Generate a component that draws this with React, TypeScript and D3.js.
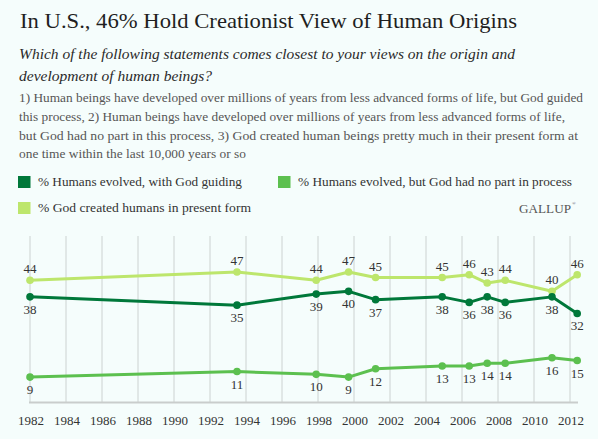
import * as d3 from 'd3';

// survey dates (decimal years) and results
const surveyDates = [1982.0, 1993.5, 1997.9, 1999.7, 2001.2, 2004.9, 2006.4, 2007.4, 2008.4, 2011.0, 2012.4];
const godGuiding = [38, 35, 39, 40, 37, 38, 36, 38, 36, 38, 32];
const noGodPart = [9, 11, 10, 9, 12, 13, 13, 14, 14, 16, 15];
const createdPresentForm = [44, 47, 44, 47, 45, 45, 46, 43, 44, 40, 46];
const tickYears = d3.range(1982, 2013, 2);

const seriesNames = [
  '% Humans evolved, with God guiding',
  '% Humans evolved, but God had no part in process',
  '% God created humans in present form',
];

const title = 'In U.S., 46% Hold Creationist View of Human Origins';
const question = [
  'Which of the following statements comes closest to your views on the origin and',
  'development of human beings?',
];
const answers = [
  '1) Human beings have developed over millions of years from less advanced forms of life, but God guided',
  'this process, 2) Human beings have developed over millions of years from less advanced forms of life,',
  'but God had no part in this process, 3) God created human beings pretty much in their present form at',
  'one time within the last 10,000 years or so',
];

const W = 598;
const H = 439;
const FONT = "'Liberation Serif', 'DejaVu Serif', 'Times New Roman', serif";

const DARK = '#00783a';
const MID = '#5cc04f';
const LIGHT = '#bde66c';

export default function App() {
  const x = d3.scaleLinear().domain([1982, 2012]).range([30, 570]);
  const y = d3.scaleLinear().domain([0, 60]).range([402, 236]);

  const series = [
    { name: seriesNames[2], values: createdPresentForm, color: LIGHT, above: true },
    { name: seriesNames[0], values: godGuiding, color: DARK, above: false },
    { name: seriesNames[1], values: noGodPart, color: MID, above: false },
  ];

  const line = d3.line<[number, number]>()
    .x(d => x(d[0]))
    .y(d => y(d[1]));

  const legend = [
    { name: seriesNames[0], color: DARK, lx: 18, ly: 176 },
    { name: seriesNames[1], color: MID, lx: 278, ly: 176 },
    { name: seriesNames[2], color: LIGHT, lx: 18, ly: 202 },
  ];
  const legendWidths = [204, 274, 213];

  const answerWidths = [564, 546, 559, 227];

  return (
    <svg
      width={W}
      height={H}
      style={{ position: 'absolute', left: 0, top: 0, display: 'block', fontFamily: FONT }}
    >
      <rect width={W} height={H} fill="#f5fdfc" />

      {/* heading */}
      <text x={20} y={28} fontSize={22} fill="#1f1f1f" textLength={497} lengthAdjust="spacingAndGlyphs">
        {title}
      </text>
      {question.map((q, i) => (
        <text
          key={q}
          x={19}
          y={59 + i * 21.7}
          fontSize={15}
          fontStyle="italic"
          fill="#2a2a2a"
          textLength={i === 0 ? 496 : 193}
          lengthAdjust="spacingAndGlyphs"
        >
          {q}
        </text>
      ))}
      {answers.map((a, i) => (
        <text
          key={a}
          x={19}
          y={102.3 + i * 18.6}
          fontSize={13}
          fill="#555"
          textLength={answerWidths[i]}
          lengthAdjust="spacingAndGlyphs"
        >
          {a}
        </text>
      ))}

      {/* legend */}
      {legend.map((l, i) => (
        <g key={l.name}>
          <rect x={l.lx} y={l.ly} width={12.5} height={12} fill={l.color} />
          <text
            x={l.lx + 20}
            y={l.ly + 9.5}
            fontSize={13}
            fill="#333"
            textLength={legendWidths[i]}
            lengthAdjust="spacingAndGlyphs"
          >
            {l.name}
          </text>
        </g>
      ))}
      <text x={519} y={212.5} fontSize={13} fill="#555" textLength={52} lengthAdjust="spacingAndGlyphs">
        GALLUP
      </text>
      <text x={572} y={205} fontSize={5} fill="#555">®</text>

      {/* grid */}
      {tickYears.map(t => (
        <line key={t} x1={x(t)} x2={x(t)} y1={y(60)} y2={y(0)} stroke="#ccd2d1" strokeWidth={1} />
      ))}
      <line x1={29} x2={578} y1={y(0) + 0.5} y2={y(0) + 0.5} stroke="#c9cdcc" strokeWidth={2} />
      {tickYears.map(t => (
        <text key={t} x={x(t) + 1} y={425} fontSize={13} fill="#333" textAnchor="middle">
          {t}
        </text>
      ))}

      {/* series */}
      {series.map(s => {
        const pts = surveyDates.map((d, i) => [d, s.values[i]] as [number, number]);
        return (
          <g key={s.name}>
            <path d={line(pts) ?? ''} fill="none" stroke={s.color} strokeWidth={3} strokeLinejoin="round" />
            {pts.map((p, i) => (
              <circle key={i} cx={x(p[0])} cy={y(p[1])} r={3.8} fill={s.color} />
            ))}
          </g>
        );
      })}
      {series.map(s =>
        surveyDates.map((d, i) => (
          <text
            key={s.name + i}
            x={x(d)}
            y={y(s.values[i]) + (s.above ? -7 : 17)}
            fontSize={13}
            fill="#333"
            textAnchor="middle"
          >
            {s.values[i]}
          </text>
        ))
      )}
    </svg>
  );
}
